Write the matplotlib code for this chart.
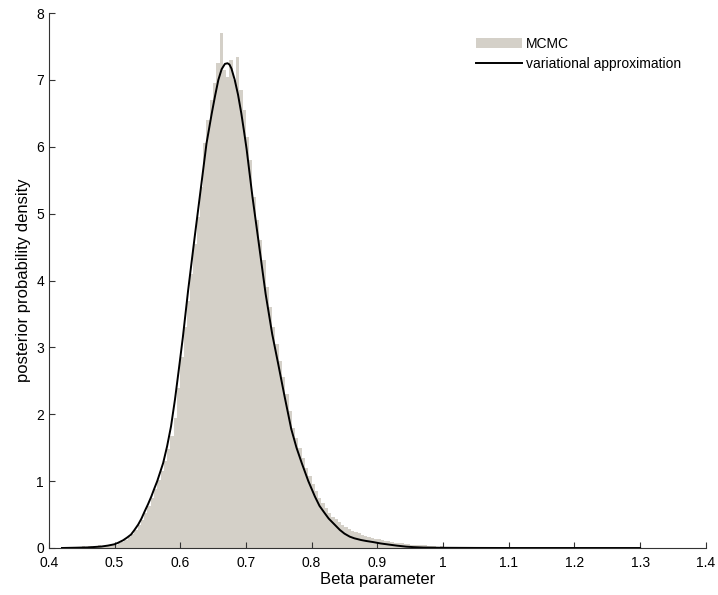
import matplotlib.pyplot as plt
import numpy as np

plt.rcParams['font.family'] = ['Liberation Sans', 'DejaVu Sans']

# MCMC histogram, bins of width 0.005 starting at 0.42 (heights)
bin_start = 0.42
bin_width = 0.005
mcmc_density = [
    0.01, 0.02, 0.01, 0.02, 0.02, 0.01, 0.03, 0.02, 0.03, 0.02, 0.03, 0.04, 0.03, 0.04, 0.05, 0.04,
    0.05, 0.07, 0.09, 0.12, 0.16, 0.21, 0.27, 0.34, 0.42, 0.52, 0.63, 0.75, 0.88, 1.02, 1.15, 1.30,
    1.48, 1.68, 1.95, 2.40, 2.85, 3.30, 3.70, 4.10, 4.55, 4.95, 5.40, 6.05, 6.40, 6.70, 6.95, 7.25,
    7.70, 7.15, 7.05, 7.30, 7.00, 7.35, 6.85, 6.55, 6.15, 5.80, 5.25, 4.90, 4.60, 4.30, 3.90, 3.60,
    3.30, 3.05, 2.80, 2.55, 2.30, 2.05, 1.80, 1.65, 1.50, 1.35, 1.20, 1.08, 0.95, 0.85, 0.75, 0.67,
    0.60, 0.53, 0.47, 0.43, 0.39, 0.35, 0.32, 0.29, 0.26, 0.24, 0.22, 0.20, 0.18, 0.17, 0.15, 0.14,
    0.13, 0.12, 0.11, 0.10, 0.09, 0.08, 0.08, 0.07, 0.06, 0.06, 0.05, 0.05, 0.04, 0.04, 0.04, 0.03,
    0.03, 0.03, 0.02, 0.03, 0.02, 0.02, 0.01, 0.02, 0.01, 0.01, 0.01, 0.01, 0.01, 0.01, 0.005, 0.0,
    0.005, 0.0, 0.005, 0.0, 0.0, 0.005, 0.0, 0.0,
]

# variational approximation curve
vb_x = [0.42, 0.44, 0.46, 0.48, 0.49, 0.50, 0.505, 0.513, 0.519, 0.525, 0.530, 0.536, 0.541,
        0.546, 0.551, 0.556, 0.560, 0.565, 0.569, 0.574, 0.580, 0.586, 0.592, 0.598, 0.604,
        0.612, 0.622, 0.631, 0.640, 0.648, 0.653, 0.658, 0.663, 0.668, 0.672, 0.675, 0.678,
        0.683, 0.688, 0.693, 0.697, 0.701, 0.710, 0.719, 0.730, 0.740, 0.749, 0.759, 0.769,
        0.777, 0.785, 0.795, 0.805, 0.812, 0.820, 0.826, 0.833, 0.843, 0.850, 0.858, 0.865,
        0.875, 0.883, 0.894, 0.905, 0.920, 0.930, 0.944, 0.955, 0.970, 1.0, 1.05, 1.1, 1.2, 1.3]
vb_y = [0.0, 0.004, 0.009, 0.022, 0.036, 0.056, 0.076, 0.115, 0.155, 0.2, 0.265, 0.35, 0.44,
        0.55, 0.655, 0.77, 0.875, 1.0, 1.12, 1.27, 1.52, 1.82, 2.22, 2.68, 3.15,
        3.85, 4.65, 5.35, 6.05, 6.5, 6.76, 7.0, 7.16, 7.24, 7.25, 7.23, 7.17,
        7.0, 6.78, 6.5, 6.24, 5.97, 5.25, 4.6, 3.8, 3.2, 2.76, 2.26, 1.78,
        1.5, 1.27, 1.0, 0.77, 0.63, 0.52, 0.44, 0.37, 0.27, 0.215, 0.17, 0.145,
        0.12, 0.105, 0.088, 0.068, 0.048, 0.035, 0.02, 0.013, 0.007, 0.003, 0.001, 0.0, 0.0, 0.0]

edges = bin_start + bin_width * np.arange(len(mcmc_density))

fig = plt.figure(figsize=(7.18, 5.95), dpi=100)
ax = fig.add_axes([0.068, 0.079, 0.915, 0.899])

bars = ax.bar(edges, mcmc_density, width=bin_width, align='edge', color='#d4d0c8',
              edgecolor='none', label='MCMC')
line, = ax.plot(vb_x, vb_y, color='black', lw=1.4, solid_joinstyle='round',
                label='variational approximation')

ax.set_xlim(0.4, 1.4)
ax.set_ylim(0, 8)
ax.set_xticks(np.arange(0.4, 1.41, 0.1))
ax.set_xticklabels(['0.4', '0.5', '0.6', '0.7', '0.8', '0.9', '1', '1.1', '1.2', '1.3', '1.4'])
ax.set_yticks(range(0, 9))
ax.tick_params(direction='in', length=4, labelsize=10, color='#333333')
ax.tick_params(axis='x', pad=6)
ax.spines['top'].set_visible(False)
ax.spines['right'].set_visible(False)
ax.spines['left'].set_color('#333333')
ax.spines['bottom'].set_color('#333333')

ax.set_xlabel('Beta parameter', fontsize=12, labelpad=1)
ax.set_ylabel('posterior probability density', fontsize=12, labelpad=4)

ax.legend(handles=[bars, line], loc='upper left', bbox_to_anchor=(0.65, 0.955),
          frameon=False, fontsize=10, handlelength=3.3, handletextpad=0.3,
          borderpad=0, borderaxespad=0, labelspacing=0.4)

fig.savefig('out.png')
